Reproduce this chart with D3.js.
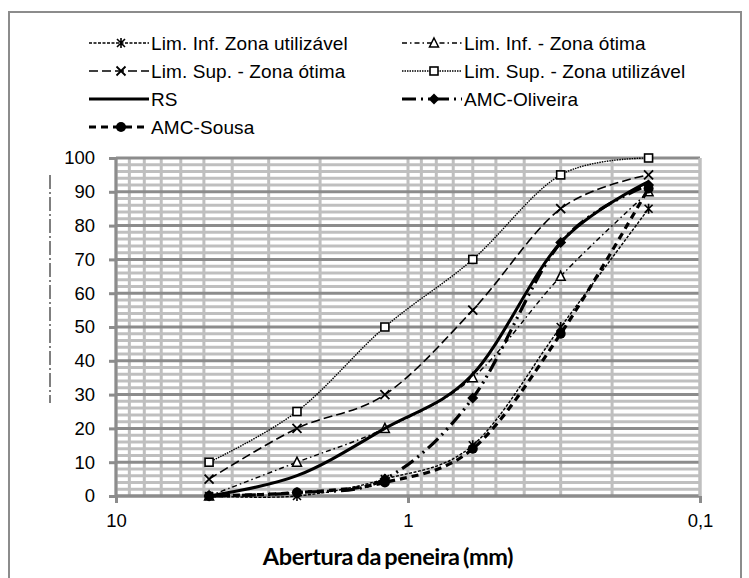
<!DOCTYPE html>
<html>
<head>
<meta charset="utf-8">
<script src="https://cdn.jsdelivr.net/npm/d3@7"></script>
<style>
  body { margin: 0; background: #fff; }
  text { fill: #000; }
  .tick-label { font-family: "Liberation Sans", Arial, sans-serif; font-size: 18.5px; }
  .legend-label { font-family: "Liberation Sans", Arial, sans-serif; font-size: 19px; letter-spacing: 0.1px; }
  .axis-title { font-family: Lato, "Open Sans", sans-serif; font-size: 23.5px; font-weight: bold; letter-spacing: -0.4px; word-spacing: -2px; }
</style>
</head>
<body>
<script>
// sieve openings (mm) and cumulative retained (%)
const sieves = [4.8, 2.4, 1.2, 0.6, 0.3, 0.15];

const limInfUtil = [0, 0, 5, 15, 50, 85];
const limInfOtima = [0, 10, 20, 35, 65, 90];
const limSupOtima = [5, 20, 30, 55, 85, 95];
const limSupUtil = [10, 25, 50, 70, 95, 100];
const rs = [0, 6, 20, 36, 75, 93];
const amcOliveira = [0, 1, 5, 29, 75, 92];
const amcSousa = [0, 1, 4, 14, 48, 91];

const yTicks = [0, 10, 20, 30, 40, 50, 60, 70, 80, 90, 100];
const xTicks = [10, 1, 0.1];
const xTickLabels = ['10', '1', '0,1'];

const series = [
  {name: 'Lim. Inf. Zona utilizável', values: limInfUtil, width: 1.4, dash: '3,1.5', marker: 'asterisk'},
  {name: 'Lim. Inf. - Zona ótima', values: limInfOtima, width: 1.4, dash: '5,3,1.5,3', marker: 'triangle'},
  {name: 'Lim. Sup. - Zona ótima', values: limSupOtima, width: 1.6, dash: '9,4', marker: 'cross'},
  {name: 'Lim. Sup. - Zona utilizável', values: limSupUtil, width: 1.4, dash: '1.5,1', marker: 'square'},
  {name: 'RS', values: rs, width: 3, dash: null, marker: null},
  {name: 'AMC-Oliveira', values: amcOliveira, width: 3.2, dash: '14,5,2,5,2,5', marker: 'diamond'},
  {name: 'AMC-Sousa', values: amcSousa, width: 3.2, dash: '7,5', marker: 'circle'}
];

const width = 749;
const height = 578;

const svg = d3.select('body').append('svg')
  .attr('width', width)
  .attr('height', height);

// outer frame
svg.append('rect')
  .attr('x', 9).attr('y', 12)
  .attr('width', 732).attr('height', 600)
  .attr('fill', 'none')
  .attr('stroke', '#8c8c8c')
  .attr('stroke-width', 2);

// leftover of the hidden y title
svg.append('line')
  .attr('x1', 50).attr('x2', 50)
  .attr('y1', 175).attr('y2', 403)
  .attr('stroke', '#000')
  .attr('stroke-width', 1)
  .attr('stroke-dasharray', '14,3,2,3');

const x = d3.scaleLog().domain([10, 0.1]).range([116, 700]);
const y = d3.scaleLinear().domain([0, 100]).range([496, 158]);

const grid = svg.append('g');

// minor horizontal grid every 2 units
grid.selectAll('line.hminor')
  .data(d3.range(0, 101, 2).filter(v => v % 10 !== 0))
  .enter().append('line')
  .attr('x1', x(10)).attr('x2', x(0.1))
  .attr('y1', d => y(d)).attr('y2', d => y(d))
  .attr('stroke', '#bfbfbf')
  .attr('stroke-width', 3);

// vertical log grid
const vgrid = [];
[1, 0.1].forEach(dec => { for (let k = 1; k <= 9; k++) vgrid.push(k * dec); });
vgrid.push(10);
grid.selectAll('line.v')
  .data(vgrid)
  .enter().append('line')
  .attr('x1', d => x(d)).attr('x2', d => x(d))
  .attr('y1', y(100)).attr('y2', y(0))
  .attr('stroke', '#bfbfbf')
  .attr('stroke-width', 3);

// major horizontal grid
grid.selectAll('line.hmajor')
  .data(yTicks)
  .enter().append('line')
  .attr('x1', x(10)).attr('x2', x(0.1))
  .attr('y1', d => y(d)).attr('y2', d => y(d))
  .attr('stroke', '#8c8c8c')
  .attr('stroke-width', 3);

// axes
const yAxis = svg.append('g')
  .attr('transform', `translate(${x(10)},0)`)
  .call(d3.axisLeft(y).tickValues(yTicks).tickSize(7).tickPadding(14));
const xAxis = svg.append('g')
  .attr('transform', `translate(0,${y(0)})`)
  .call(d3.axisBottom(x).tickValues(xTicks).tickFormat((d, i) => xTickLabels[i]).tickSize(7).tickPadding(11));

[yAxis, xAxis].forEach(ax => {
  ax.select('.domain').attr('stroke', '#8c8c8c').attr('stroke-width', 3);
  ax.selectAll('.tick line').attr('stroke', '#8c8c8c').attr('stroke-width', 3);
  ax.selectAll('.tick text').attr('class', 'tick-label').attr('fill', '#000');
});
yAxis.select('.domain').attr('d', `M0,${y(0)}V${y(100)}`);
xAxis.select('.domain').attr('d', `M${x(10)},0H${x(0.1)}`);

svg.append('line')
  .attr('x1', x(0.1)).attr('x2', x(0.1))
  .attr('y1', y(100)).attr('y2', y(0))
  .attr('stroke', '#bfbfbf')
  .attr('stroke-width', 3);

svg.append('text')
  .attr('class', 'axis-title')
  .attr('x', 388)
  .attr('y', 565)
  .attr('text-anchor', 'middle')
  .text('Abertura da peneira (mm)');

function drawMarker(g, type, cx, cy)
{
  if (type === 'asterisk') {
    g.append('path')
      .attr('d', `M${cx - 4},${cy - 4}L${cx + 4},${cy + 4}M${cx - 4},${cy + 4}L${cx + 4},${cy - 4}M${cx},${cy - 5}V${cy + 5}`)
      .attr('stroke', '#000').attr('stroke-width', 1.6).attr('fill', 'none');
  } else if (type === 'cross') {
    g.append('path')
      .attr('d', `M${cx - 4.5},${cy - 4.5}L${cx + 4.5},${cy + 4.5}M${cx - 4.5},${cy + 4.5}L${cx + 4.5},${cy - 4.5}`)
      .attr('stroke', '#000').attr('stroke-width', 1.8).attr('fill', 'none');
  } else if (type === 'triangle') {
    g.append('path')
      .attr('d', `M${cx},${cy - 5}L${cx + 4.5},${cy + 4}L${cx - 4.5},${cy + 4}Z`)
      .attr('stroke', '#000').attr('stroke-width', 1.5).attr('fill', '#fff');
  } else if (type === 'square') {
    g.append('rect')
      .attr('x', cx - 4).attr('y', cy - 4).attr('width', 8).attr('height', 8)
      .attr('stroke', '#000').attr('stroke-width', 1.6).attr('fill', '#fff');
  } else if (type === 'diamond') {
    g.append('path')
      .attr('d', `M${cx},${cy - 5.5}L${cx + 5.5},${cy}L${cx},${cy + 5.5}L${cx - 5.5},${cy}Z`)
      .attr('fill', '#000');
  } else if (type === 'circle') {
    g.append('circle')
      .attr('cx', cx).attr('cy', cy).attr('r', 5)
      .attr('fill', '#000');
  }
}

const line = d3.line()
  .x(d => x(d[0]))
  .y(d => y(d[1]))
  .curve(d3.curveCardinal.tension(0));

const plot = svg.append('g');

series.forEach(s => {
  const pts = sieves.map((v, i) => [v, s.values[i]]);
  plot.append('path')
    .datum(pts)
    .attr('d', line)
    .attr('fill', 'none')
    .attr('stroke', '#000')
    .attr('stroke-width', s.width)
    .attr('stroke-dasharray', s.dash);
  const mg = plot.append('g');
  if (s.marker) pts.forEach(p => drawMarker(mg, s.marker, x(p[0]), y(p[1])));
});

// legend, two columns
const legendCols = [89, 402];
const legendRows = [43, 71, 99, 127];

series.forEach((s, i) => {
  const lx = legendCols[i % 2];
  const ly = legendRows[Math.floor(i / 2)];
  const g = svg.append('g');
  g.append('line')
    .attr('x1', lx).attr('x2', lx + 60)
    .attr('y1', ly).attr('y2', ly)
    .attr('stroke', '#000')
    .attr('stroke-width', s.width)
    .attr('stroke-dasharray', s.dash);
  if (s.marker) drawMarker(g, s.marker, lx + 32, ly);
  g.append('text')
    .attr('class', 'legend-label')
    .attr('x', lx + 62)
    .attr('y', ly + 7)
    .text(s.name);
});
</script>
</body>
</html>
